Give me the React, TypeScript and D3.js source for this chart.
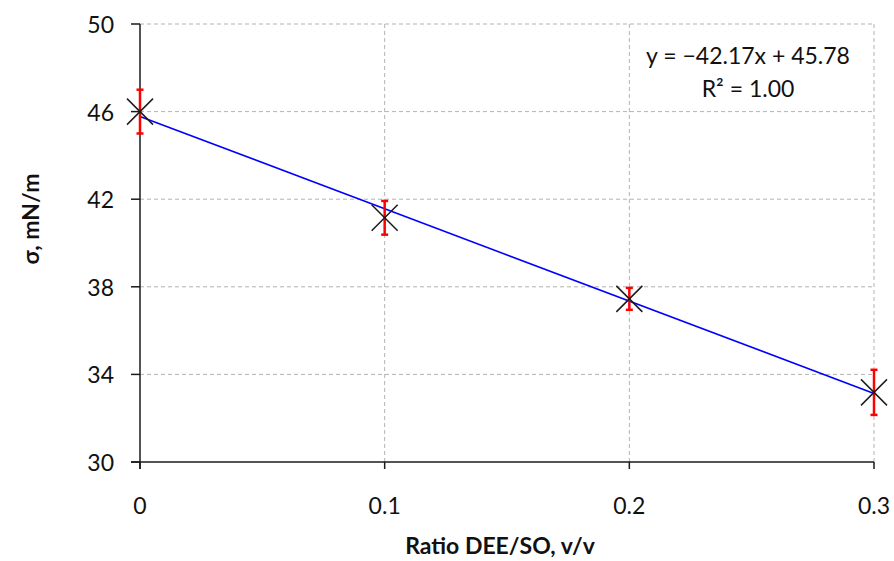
import React from "react";
import * as d3 from "d3";

const ratios = [0, 0.1, 0.2, 0.3];
const sigma = [46.0, 41.15, 37.45, 33.18];
const errors = [1.0, 0.77, 0.5, 1.03];
const xTicks = [0, 0.1, 0.2, 0.3];
const yTicks = [30, 34, 38, 42, 46, 50];
const slope = -42.17;
const intercept = 45.78;
const equationLines = ["y = \u221242.17x + 45.78", "R\u00b2 = 1.00"];

const W = 894;
const H = 561;
const FONT = "Lato, 'Open Sans', sans-serif";
const FS = 23;

export default function App() {
  const x = d3.scaleLinear().domain([0, 0.3]).range([140, 874]);
  const y = d3.scaleLinear().domain([30, 50]).range([462, 24]);
  const line = d3
    .line<number>()
    .x((d) => x(d))
    .y((d) => y(slope * d + intercept));
  const m = 13;
  return (
    <svg
      width={W}
      height={H}
      style={{ position: "absolute", left: 0, top: 0, background: "#fff" }}
      fontFamily={FONT}
    >
      {yTicks
        .filter((t) => t !== 30)
        .map((t) => (
          <line
            key={"gy" + t}
            x1={x(0)}
            x2={x(0.3)}
            y1={y(t)}
            y2={y(t)}
            stroke="#b3b3b3"
            strokeWidth={1}
            strokeDasharray="4,3"
          />
        ))}
      {xTicks
        .filter((t) => t !== 0)
        .map((t) => (
          <line
            key={"gx" + t}
            x1={x(t)}
            x2={x(t)}
            y1={y(50)}
            y2={y(30)}
            stroke="#b3b3b3"
            strokeWidth={1}
            strokeDasharray="4,3"
          />
        ))}
      <line x1={x(0)} x2={x(0)} y1={y(50)} y2={y(30) + 7} stroke="#1a1a1a" strokeWidth={1.5} />
      <line x1={x(0) - 9} x2={x(0.3)} y1={y(30)} y2={y(30)} stroke="#1a1a1a" strokeWidth={1.5} />
      {yTicks.map((t) => (
        <g key={"yt" + t}>
          <line x1={x(0) - 9} x2={x(0)} y1={y(t)} y2={y(t)} stroke="#1a1a1a" strokeWidth={1.5} />
          <text
            x={114}
            y={y(t)}
            textAnchor="end"
            dominantBaseline="central"
            fontSize={FS}
            fill="#111"
          >
            {t}
          </text>
        </g>
      ))}
      {xTicks.map((t) => (
        <g key={"xt" + t}>
          <line x1={x(t)} x2={x(t)} y1={y(30)} y2={y(30) + 7} stroke="#1a1a1a" strokeWidth={1.5} />
          <text
            x={x(t)}
            y={505}
            textAnchor="middle"
            dominantBaseline="central"
            fontSize={FS}
            fill="#111"
          >
            {t}
          </text>
        </g>
      ))}
      <path d={line([0, 0.3]) || ""} fill="none" stroke="#0000ff" strokeWidth={1.6} />
      {ratios.map((r, i) => (
        <g key={"e" + i} stroke="#ff0000" strokeWidth={2.5}>
          <line x1={x(r)} x2={x(r)} y1={y(sigma[i] + errors[i])} y2={y(sigma[i] - errors[i])} />
          <line x1={x(r) - 3.5} x2={x(r) + 3.5} y1={y(sigma[i] + errors[i])} y2={y(sigma[i] + errors[i])} />
          <line x1={x(r) - 3.5} x2={x(r) + 3.5} y1={y(sigma[i] - errors[i])} y2={y(sigma[i] - errors[i])} />
        </g>
      ))}
      {ratios.map((r, i) => (
        <g key={"m" + i} stroke="#1a1a1a" strokeWidth={1.5}>
          <line x1={x(r) - m} x2={x(r) + m} y1={y(sigma[i]) - m} y2={y(sigma[i]) + m} />
          <line x1={x(r) - m} x2={x(r) + m} y1={y(sigma[i]) + m} y2={y(sigma[i]) - m} />
        </g>
      ))}
      <text x={748} y={55} textAnchor="middle" dominantBaseline="central" fontSize={FS} fill="#111">
        {equationLines[0]}
      </text>
      <text x={748} y={88} textAnchor="middle" dominantBaseline="central" fontSize={FS} fill="#111">
        {equationLines[1]}
      </text>
      <text x={500} y={545} textAnchor="middle" dominantBaseline="central" fontSize={FS} fontWeight="bold" fill="#111">
        Ratio DEE/SO, v/v
      </text>
      <text
        transform={`translate(30,219) rotate(-90)`}
        textAnchor="middle"
        dominantBaseline="central"
        fontSize={FS}
        fontWeight="bold"
        fill="#111"
      >
        σ, mN/m
      </text>
    </svg>
  );
}
